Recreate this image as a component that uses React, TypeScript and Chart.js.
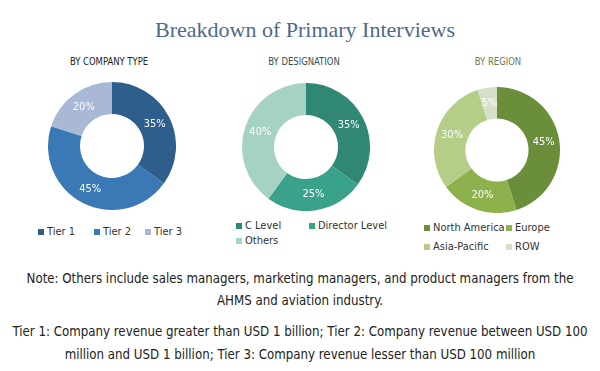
import React, { useEffect, useRef } from "react";
import { Chart, registerables } from "chart.js";

Chart.register(...registerables);

// ---------- data ----------
const companyLabels = ["Tier 1", "Tier 2", "Tier 3"];
const companyValues = [35, 45, 20];
const companyColors = ["#2e5e8c", "#3a78b6", "#a8b8d5"];

const designationLabels = ["C Level", "Director Level", "Others"];
const designationValues = [35, 25, 40];
const designationColors = ["#2f8774", "#3aa28a", "#a5d2c5"];

const regionLabels = ["North America", "Europe", "Asia-Pacific", "ROW"];
const regionValues = [45, 20, 30, 5];
const regionColors = ["#6b8e3b", "#8db14d", "#b4ce88", "#d6e0c8"];

const titleText = "Breakdown of Primary Interviews";
const noteLines = [
  "Note: Others include sales managers, marketing managers, and product managers from the",
  "AHMS and aviation industry.",
];
const tierLines = [
  "Tier 1: Company revenue greater than USD 1 billion; Tier 2: Company revenue between USD 100",
  "million and USD 1 billion; Tier 3: Company revenue lesser than USD 100 million",
];

const CONDENSED = '"Liberation Sans Narrow", "DejaVu Sans Condensed", "Roboto Condensed", sans-serif';

const pctLabels = {
  id: "pctLabels",
  afterDatasetsDraw(chart: any) {
    const ctx = chart.ctx;
    const meta = chart.getDatasetMeta(0);
    const data = chart.data.datasets[0].data;
    ctx.save();
    ctx.fillStyle = "#ffffff";
    ctx.font = `11px ${CONDENSED}`;
    ctx.textAlign = "center";
    ctx.textBaseline = "middle";
    meta.data.forEach((arc: any, i: number) => {
      const p = arc.tooltipPosition();
      ctx.fillText(`${data[i]}%`, p.x, p.y);
    });
    ctx.restore();
  },
};

function Donut(props: { labels: string[]; values: number[]; colors: string[]; size: number; left: number; top: number }) {
  const ref = useRef<HTMLCanvasElement>(null);
  useEffect(() => {
    if (!ref.current) return;
    const chart = new Chart(ref.current, {
      type: "doughnut",
      data: {
        labels: props.labels,
        datasets: [
          {
            data: props.values,
            backgroundColor: props.colors,
            borderWidth: 0,
          },
        ],
      },
      options: {
        responsive: false,
        animation: false,
        devicePixelRatio: 1,
        cutout: "50%",
        layout: { padding: 0 },
        plugins: { legend: { display: false }, tooltip: { enabled: false } },
      },
      plugins: [pctLabels],
    });
    return () => chart.destroy();
  }, []);
  return (
    <canvas
      ref={ref}
      width={props.size}
      height={props.size}
      style={{ position: "absolute", left: props.left, top: props.top, width: props.size, height: props.size }}
    />
  );
}

function LegendItem(props: { label: string; color: string; left: number; top: number }) {
  return (
    <div
      style={{
        position: "absolute",
        left: props.left,
        top: props.top,
        display: "flex",
        alignItems: "center",
        fontFamily: CONDENSED,
        fontSize: 11,
        color: "#333",
        whiteSpace: "nowrap",
        lineHeight: "12px",
      }}
    >
      <span style={{ display: "inline-block", width: 6, height: 6, background: props.color, marginRight: 3 }} />
      {props.label}
    </div>
  );
}

export default function App() {
  const companyLegendPos = [
    [38, 226],
    [94, 226],
    [145, 226],
  ];
  const designationLegendPos = [
    [236, 220],
    [309, 220],
    [236, 235],
  ];
  const regionLegendPos = [
    [424, 222],
    [506, 222],
    [424, 241],
    [506, 241],
  ];
  return (
    <div style={{ position: "absolute", left: 0, top: 0, width: 600, height: 371, background: "#fff", overflow: "hidden" }}>
      <div
        style={{
          position: "absolute",
          left: 0,
          width: 610,
          top: 17,
          textAlign: "center",
          fontFamily: '"Liberation Serif", "DejaVu Serif", serif',
          fontSize: 22,
          color: "#4d6a8b",
        }}
      >
        {titleText}
      </div>
      {[
        ["BY COMPANY TYPE", 109, "#222"],
        ["BY DESIGNATION", 304, "#2f4f4c"],
        ["BY REGION", 498, "#6d7a48"],
      ].map(([t, cx, c]) => (
        <div
          key={t as string}
          style={{
            position: "absolute",
            left: (cx as number) - 60,
            width: 120,
            top: 56,
            textAlign: "center",
            fontFamily: CONDENSED,
            fontSize: 10,
            color: c as string,
            transform: "scaleX(0.94)",
          }}
        >
          {t}
        </div>
      ))}
      <Donut labels={companyLabels} values={companyValues} colors={companyColors} size={128} left={48} top={82} />
      <Donut labels={designationLabels} values={designationValues} colors={designationColors} size={128} left={242} top={83} />
      <Donut labels={regionLabels} values={regionValues} colors={regionColors} size={126} left={434} top={87} />
      {companyLabels.map((l, i) => (
        <LegendItem key={l} label={l} color={companyColors[i]} left={companyLegendPos[i][0]} top={companyLegendPos[i][1]} />
      ))}
      {designationLabels.map((l, i) => (
        <LegendItem key={l} label={l} color={designationColors[i]} left={designationLegendPos[i][0]} top={designationLegendPos[i][1]} />
      ))}
      {regionLabels.map((l, i) => (
        <LegendItem key={l} label={l} color={regionColors[i]} left={regionLegendPos[i][0]} top={regionLegendPos[i][1]} />
      ))}
      {[...noteLines, ...tierLines].map((line, i) => (
        <div
          key={i}
          style={{
            position: "absolute",
            left: -100,
            width: 800,
            top: [269, 291, 322, 345][i],
            textAlign: "center",
            fontFamily: CONDENSED,
            fontSize: 14,
            color: "#222",
            whiteSpace: "nowrap",
            lineHeight: "18px",
            transform: "scaleX(0.94)",
            transformOrigin: "400px 50%",
          }}
        >
          {line}
        </div>
      ))}
    </div>
  );
}
